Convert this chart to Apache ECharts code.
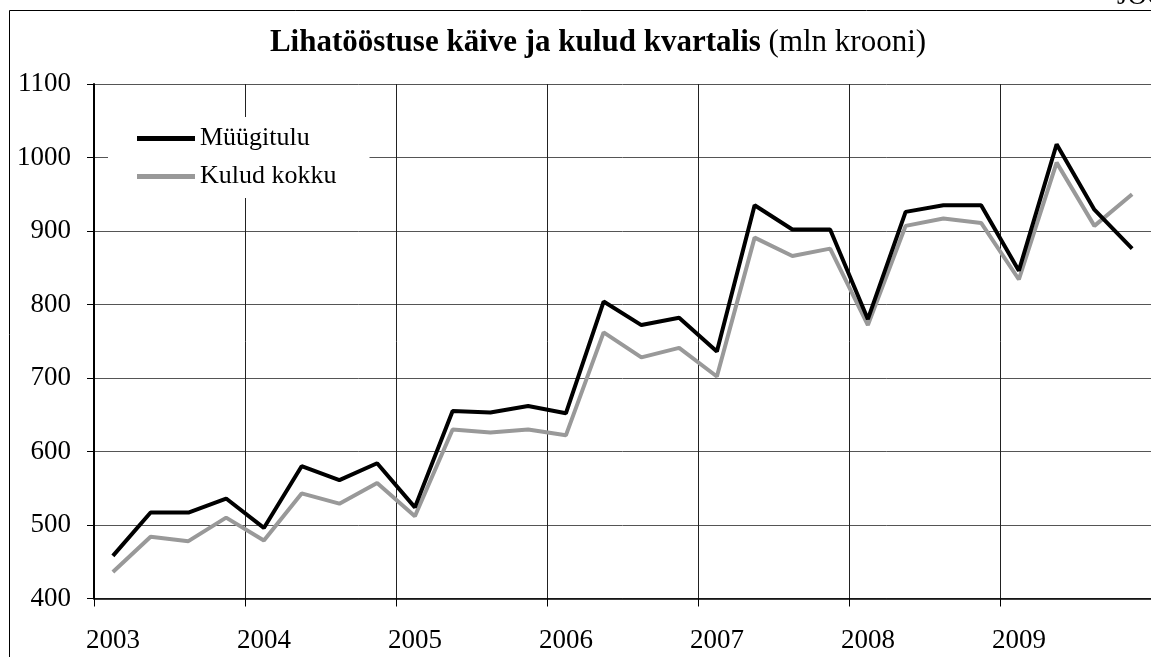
<!DOCTYPE html>
<html lang="et">
<head>
<meta charset="UTF-8">
<title>Lihatööstuse käive ja kulud kvartalis</title>
<script type="text/javascript" src="https://cdn.jsdelivr.net/npm/echarts@6/dist/echarts.min.js"></script>
<style type="text/css">
	html, body { margin: 0; padding: 0; background: #fff; }
	#chart { width: 1151px; height: 657px; }
</style>
</head>
<body>
<div id="chart"></div>
<script type="text/javascript">
	// kvartalid 2003 I ... 2009 IV
	var aastad = ['2003', '2004', '2005', '2006', '2007', '2008', '2009'];
	var kvartalid = ['I', 'II', 'III', 'IV'];
	var kategooriad = [];
	aastad.forEach(function (a) {
		kvartalid.forEach(function (k) { kategooriad.push(a + ' ' + k); });
	});

	// Müügitulu (mln krooni)
	var myygitulu = [
		458, 517, 517, 536,
		496, 580, 561, 584,
		524, 655, 653, 662,
		652, 804, 772, 782,
		736, 935, 902, 902,
		780, 926, 935, 935,
		846, 1018, 929, 876
	];
	// Kulud kokku (mln krooni)
	var kulud = [
		436, 484, 478, 510,
		479, 543, 529, 557,
		512, 630, 626, 630,
		622, 762, 728, 741,
		702, 891, 866, 876,
		772, 907, 917, 911,
		834, 993, 907, 950
	];

	var font = '"Liberation Serif", "Times New Roman", "DejaVu Serif", serif';

	var chart = echarts.init(document.getElementById('chart'));
	var option = {
		backgroundColor: '#fff',
		animation: false,
		textStyle: { fontFamily: font, color: '#000' },
		grid: { left: 94, top: 84, width: 1060, height: 514.5 },
		legend: {
			left: 108, top: 117,
			orient: 'vertical',
			backgroundColor: '#fff',
			padding: [8, 33, 8, 29],
			itemGap: 11,
			itemWidth: 58, itemHeight: 5,
			icon: 'rect',
			textStyle: { fontFamily: font, fontSize: 26, color: '#000', lineHeight: 27 },
			data: ['Müügitulu', 'Kulud kokku']
		},
		xAxis: {
			type: 'category',
			data: kategooriad,
			boundaryGap: true,
			axisLine: { show: true, lineStyle: { color: '#000', width: 1.5 } },
			axisTick: { show: true, interval: 3, length: 8, lineStyle: { color: '#000' } },
			splitLine: { show: true, interval: 3, lineStyle: { color: '#222', width: 1 } },
			axisLabel: {
				interval: 3,
				margin: 29,
				fontFamily: font, fontSize: 27, color: '#000',
				formatter: function (v) { return v.split(' ')[0]; }
			}
		},
		yAxis: {
			type: 'value',
			min: 400, max: 1100, interval: 100,
			axisLine: { show: true, lineStyle: { color: '#000', width: 2 } },
			axisTick: { show: true, length: 7, lineStyle: { color: '#000' } },
			splitLine: { show: true, lineStyle: { color: '#555', width: 1 } },
			axisLabel: {
				margin: 23, fontFamily: font, fontSize: 27, color: '#000',
				formatter: function (v) { return String(v); }
			}
		},
		series: [
			{
				name: 'Müügitulu', type: 'line', data: myygitulu,
				symbol: 'none', z: 4,
				lineStyle: { color: '#000', width: 4 },
				itemStyle: { color: '#000' }
			},
			{
				name: 'Kulud kokku', type: 'line', data: kulud,
				symbol: 'none', z: 3,
				lineStyle: { color: '#999', width: 4 },
				itemStyle: { color: '#999' }
			}
		],
		graphic: [
			{
				type: 'rect', silent: true,
				shape: { x: 9.5, y: 10.5, width: 1300, height: 800 },
				style: { fill: 'none', stroke: '#000', lineWidth: 1 }
			},
			{
				type: 'text', x: 598, y: 43, silent: true,
				style: {
					text: '{b|Lihatööstuse käive ja kulud kvartalis}{n| (mln krooni)}',
					align: 'center',
					verticalAlign: 'middle',
					rich: {
						b: { fontFamily: font, fontSize: 31, fontWeight: 'bold', fill: '#000' },
						n: { fontFamily: font, fontSize: 31, fill: '#000' }
					}
				}
			},
			{
				type: 'text', left: 1117, top: -17, silent: true,
				style: { text: 'JOONIS', fontFamily: font, fontSize: 27, fill: '#000' }
			}
		]
	};
	chart.setOption(option, true);
</script>
</body>
</html>
